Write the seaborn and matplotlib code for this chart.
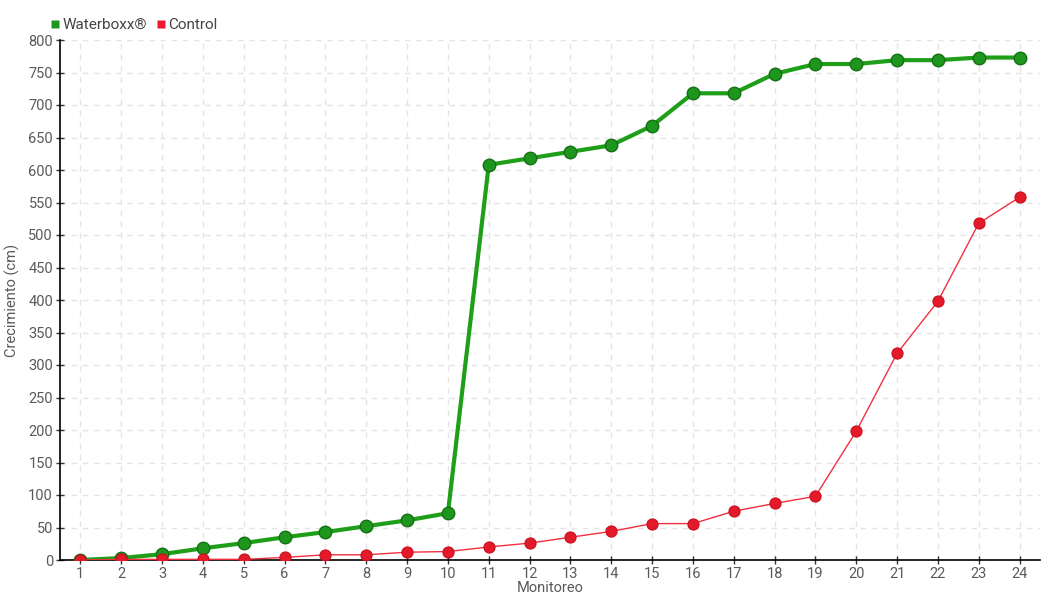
import numpy as np
import pandas as pd
import seaborn as sns
import matplotlib as mpl
mpl.use("Agg")
from matplotlib import pyplot as plt
from matplotlib.lines import Line2D

monitoreo = [str(i) for i in range(1, 25)]
waterboxx = [0, 3, 9, 18, 26, 35, 43, 52, 61, 72, 608, 618, 628, 638, 668,
             718, 718, 748, 763, 763, 769, 769, 773, 773]
control = [0, 1, 1, 1, 1, 4, 8, 8, 12, 13, 20, 26, 35, 44, 56, 56, 75, 87,
           98, 198, 318, 398, 518, 558]
yticks = list(range(0, 801, 50))

sns.set_theme(style="white")
plt.rcParams['font.family'] = ['Roboto', 'DejaVu Sans']
text_grey = '#5a5a5a'

df = pd.DataFrame({'Monitoreo': monitoreo, 'Waterboxx': waterboxx, 'Control': control})

fig = plt.figure(figsize=(10.6, 6), dpi=100)
ax = fig.add_axes([60 / 1060, 40 / 600, 980 / 1060, 520 / 600])

green = '#1f9e1a'
red = '#f0303f'

sns.lineplot(data=df, x='Monitoreo', y='Control', ax=ax, color=red, lw=1,
             marker='o', markersize=8, markerfacecolor='#e41a2a',
             markeredgecolor='#c8101e', markeredgewidth=0.8, zorder=4)
sns.lineplot(data=df, x='Monitoreo', y='Waterboxx', ax=ax, color=green, lw=3,
             marker='o', markersize=9, markerfacecolor='#1e961e',
             markeredgecolor='#137013', markeredgewidth=1, zorder=3)

ax.set_xlim(-0.5, len(monitoreo) - 0.5)
ax.set_ylim(0, 800)
ax.set_yticks(yticks)
ax.grid(True, color='#e4e4e4', linestyle=(0, (4, 4)), lw=1)
ax.set_axisbelow(True)

for s in ['top', 'right']:
    ax.spines[s].set_visible(False)
for s in ['left', 'bottom']:
    ax.spines[s].set_color('black')
    ax.spines[s].set_linewidth(1.2)

ax.tick_params(axis='both', direction='inout', length=6, width=1, color='#333333',
               labelsize=10.5, labelcolor=text_grey, pad=2, left=True, bottom=True)
ax.set_xlabel('Monitoreo', fontsize=10.5, color=text_grey, labelpad=0)
ax.set_ylabel('Crecimiento (cm)', fontsize=10.5, color=text_grey, labelpad=6)

handles = [
    Line2D([], [], marker='s', color='none', markerfacecolor='#1e961e',
           markeredgecolor='none', markersize=6, label='Waterboxx®'),
    Line2D([], [], marker='s', color='none', markerfacecolor='#f0182e',
           markeredgecolor='none', markersize=6, label='Control'),
]
fig.legend(handles=handles, loc='upper left', bbox_to_anchor=(44 / 1060, 1 - 12 / 600),
           ncol=2, frameon=False, fontsize=11, handlelength=0.6, handletextpad=0.2,
           columnspacing=0.6, labelcolor='#444444', borderaxespad=0)

fig.savefig('out.png', dpi=100)
